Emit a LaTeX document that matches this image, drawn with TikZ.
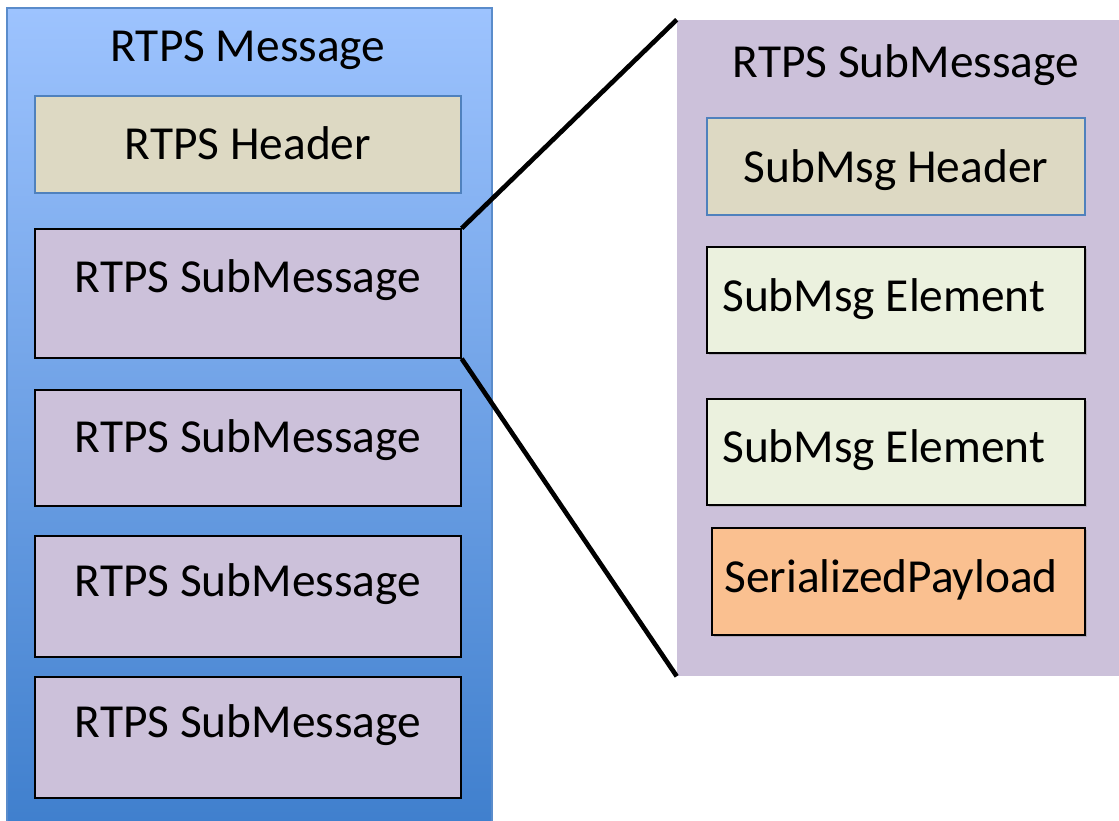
\documentclass[tikz,border=0pt]{standalone}
\usepackage{fontspec}
\setmainfont{Carlito}
\usepackage{tikz}
\usetikzlibrary{positioning,fit,shadows}

\definecolor{msgtop}{HTML}{9DC3FE}
\definecolor{msgbot}{HTML}{3F7FCD}
\definecolor{msgline}{HTML}{5A8CCB}
\definecolor{hdrfill}{HTML}{DDD9C3}
\definecolor{hdrline}{HTML}{4F81BD}
\definecolor{subfill}{HTML}{CCC1DA}
\definecolor{elemfill}{HTML}{EBF1DE}
\definecolor{payfill}{HTML}{FAC090}

\begin{document}
\begin{tikzpicture}[x=0.025cm,y=-0.025cm,
  every node/.style={font=\fontsize{33.7}{40}\selectfont},
  box/.style={rectangle,inner sep=0pt},
  msg node/.style={box,top color=msgtop,bottom color=msgbot,draw=msgline,line width=0.8pt},
  hdr node/.style={box,fill=hdrfill,draw=hdrline,line width=0.9pt},
  sub node/.style={box,fill=subfill,draw=black,line width=1pt},
  elem node/.style={box,fill=elemfill,draw=black,line width=1pt,
    drop shadow={shadow xshift=1.2pt,shadow yshift=-1.5pt,opacity=0.35}},
  pay node/.style={elem node,fill=payfill},
  txt/.style={anchor=base,inner sep=0pt}]
\useasboundingbox (0,0) rectangle (1119,821);

% left: whole message
\node[msg node,fit={(7,8) (492,830)}] (msg) {};
\node[txt] (msgtxt) at (248,62) {RTPS Message};
\node[hdr node,fit={(35,96) (461,193)}] (hdr) {};
\node[txt] (hdrtxt) at (248,159) {RTPS Header};
\node[sub node,fit={(35,229) (461,358)}] (sub1) {};
\node[txt] (sub1txt) at (248,292) {RTPS SubMessage};
\node[sub node,fit={(35,390) (461,506)}] (sub2) {};
\node[txt] (sub2txt) at (248,452) {RTPS SubMessage};
\node[sub node,fit={(35,536) (461,657)}] (sub3) {};
\node[txt] (sub3txt) at (248,596) {RTPS SubMessage};
\node[sub node,fit={(35,677) (461,798)}] (sub4) {};
\node[txt] (sub4txt) at (248,737) {RTPS SubMessage};

% right: one submessage opened up
\node[box,fill=subfill,fit={(677,20) (1119,676)}] (panel) {};
\node[txt] (paneltxt) at (906,78) {RTPS SubMessage};
\node[hdr node,fit={(707,118) (1085,215)}] (shdr) {};
\node[txt] (shdrtxt) at (896,182) {SubMsg Header};
\node[elem node,fit={(707,247) (1085,353)}] (elem1) {};
\node[txt,anchor=base west] (elem1txt) at (722,311) {SubMsg Element};
\node[elem node,fit={(707,399) (1085,505)}] (elem2) {};
\node[txt,anchor=base west] (elem2txt) at (722,462) {SubMsg Element};
\node[pay node,fit={(712,528) (1085,635)}] (pay) {};
\node[txt,anchor=base west] (paytxt) at (724,592) {SerializedPayload};

\draw[line width=3.3pt] (sub1.north east) -- (panel.north west);
\draw[line width=3.3pt] (sub1.south east) -- (panel.south west);
\end{tikzpicture}
\end{document}
